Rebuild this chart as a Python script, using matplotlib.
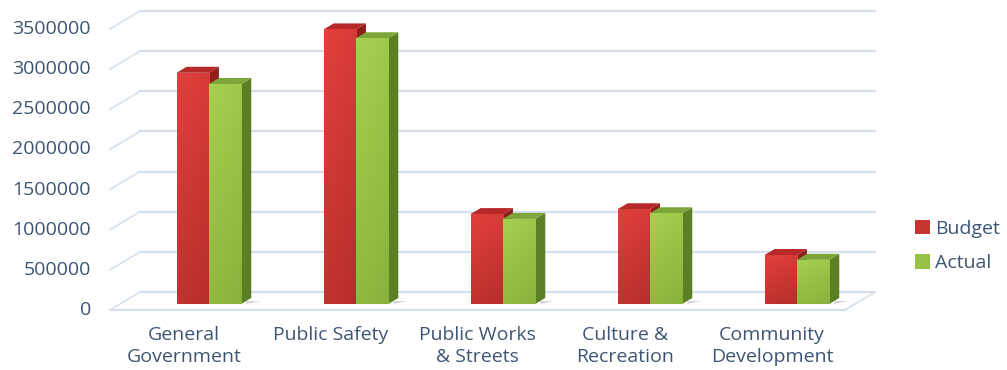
import numpy as np
import matplotlib.pyplot as plt
from matplotlib.patches import Polygon, Patch
from matplotlib.transforms import ScaledTranslation
from matplotlib.colors import LinearSegmentedColormap

plt.rcParams['font.family'] = ['Open Sans', 'DejaVu Sans']

# data
categories = ['General\nGovernment', 'Public Safety', 'Public Works\n& Streets',
              'Culture &\nRecreation', 'Community\nDevelopment']
budget = [2880000, 3420000, 1120000, 1180000, 610000]
actual = [2740000, 3310000, 1060000, 1130000, 550000]
yticks = [0, 500000, 1000000, 1500000, 2000000, 2500000, 3000000, 3500000]

text_col = '#3e5573'
grid_col = '#d6e0ec'
red = dict(top='#b52a28', side='#8f1f1d', lt='#e2403c', dk='#b52e2b')
green = dict(top='#7ba73a', side='#5a7f25', lt='#a6d04e', dk='#88b23c')

fig = plt.figure(figsize=(10.07, 3.70), dpi=100)
ax = fig.add_axes([120 / 1007, 66 / 370, 735 / 1007, 281 / 370])
xl, xr = -0.605, 4.395
ax.set_xlim(xl, xr)
ax.set_ylim(0, 3500000)
ax.axis('off')


def px(dx, dy):
    # pixel offset -> data offset
    inv = ax.transData.inverted()
    a = inv.transform((0, 0))
    b = inv.transform((dx, dy))
    return b[0] - a[0], b[1] - a[1]


bdx, bdy = px(10, 6)      # bar depth
fdx, fdy = px(-10, -6)    # front plane
kdx, kdy = px(20, 12)     # back wall

# back wall grid and left wall diagonals
for v in yticks:
    ax.plot([xl + kdx, xr + kdx], [v + kdy, v + kdy], color=grid_col, lw=1.6,
            zorder=1, clip_on=False)
    ax.plot([xl + fdx, xl + kdx], [v + fdy, v + kdy], color=grid_col, lw=1.2,
            zorder=1, clip_on=False)
# floor front edge and right edge
ax.plot([xl + fdx, xr + fdx], [fdy, fdy], color=grid_col, lw=1.6, zorder=1, clip_on=False)
ax.plot([xr + fdx, xr + kdx], [fdy, kdy], color=grid_col, lw=1.2, zorder=1, clip_on=False)

# y labels on the front plane
off = ScaledTranslation(-0.29, -0.06, fig.dpi_scale_trans)
for v in yticks:
    ax.text(xl, v, str(v), transform=ax.transData + off, ha='right', va='center',
            fontsize=14, color=text_col)


def bar3d(x0, w, h, c, z):
    side = Polygon([(x0 + w, 0), (x0 + w + bdx, bdy), (x0 + w + bdx, h + bdy), (x0 + w, h)],
                   closed=True, fc=c['side'], ec='none', zorder=z, clip_on=False)
    top = Polygon([(x0, h), (x0 + w, h), (x0 + w + bdx, h + bdy), (x0 + bdx, h + bdy)],
                  closed=True, fc=c['top'], ec='none', zorder=z, clip_on=False)
    ax.add_patch(side)
    ax.add_patch(top)
    rect = ax.bar(x0, h, width=w, align='edge', color=c['dk'], zorder=z, clip_on=False)[0]
    cmap = LinearSegmentedColormap.from_list('', [c['dk'], c['lt']])
    vv = np.linspace(0, 1, 80).reshape(-1, 1)
    uu = np.linspace(0, 1, 20).reshape(1, -1)
    grad = 0.75 * vv + 0.25 * (1 - uu)
    im = ax.imshow(grad, extent=(x0, x0 + w, 0, h), origin='lower', cmap=cmap,
                   aspect='auto', zorder=z, interpolation='bilinear')
    im.set_clip_path(rect)
    # soft shadow at the base
    sdx, _ = px(14, 0)
    ax.add_patch(Polygon([(x0 + w + bdx * 0.5, bdy * 0.5), (x0 + w + bdx * 0.5 + sdx, bdy * 0.5),
                          (x0 + w + bdx * 0.5, 0)], closed=True, fc='#bbbbbb', ec='none',
                         alpha=0.6, zorder=z - 0.5, clip_on=False))


bw = 0.22
for i in range(len(categories)):
    bar3d(i - bw, bw, budget[i], red, 3 + i)
    bar3d(i, bw, actual[i], green, 3.2 + i)

ax.set_xlim(xl, xr)
ax.set_ylim(0, 3500000)

# category labels
off2 = ScaledTranslation(-0.25, -0.22, fig.dpi_scale_trans)
for i, name in enumerate(categories):
    ax.text(i, 0, name, transform=ax.transData + off2, ha='center', va='top',
            fontsize=14, color=text_col, linespacing=1.32)

handles = [Patch(fc='#c83432', label='Budget'), Patch(fc='#96c346', label='Actual')]
fig.legend(handles=handles, loc='center left', bbox_to_anchor=(915 / 1007, 1 - 246 / 370),
           frameon=False, fontsize=14, handlelength=0.75, handleheight=0.75,
           handletextpad=0.3, labelspacing=0.85, labelcolor=text_col,
           borderaxespad=0, borderpad=0)

fig.savefig('out.png', dpi=100)
